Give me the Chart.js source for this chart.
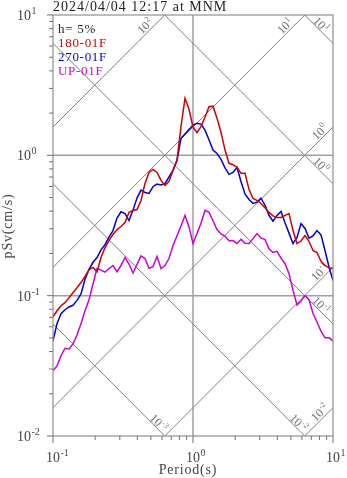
<!DOCTYPE html>
<html>
<head>
<meta charset="utf-8">
<script src="https://cdn.jsdelivr.net/npm/chart.js@4.4.0/dist/chart.umd.min.js"></script>
<style>
  html, body { margin: 0; padding: 0; background: #fff; }
  #wrap { position: relative; width: 347px; height: 478px; }
</style>
</head>
<body>
<div id="wrap"><canvas id="spec"></canvas></div>
<script>
/* ── DATA ── */
const title = '2024/04/04 12:17 at MNM';
const damping = 'h= 5%';
const seriesNames = ['180-01F', '270-01F', 'UP-01F'];

// period (s)
const periods = [
  0.1, 0.1068, 0.1141, 0.1218, 0.1301, 0.1389, 0.1484, 0.1585, 0.1693, 0.1808,
  0.1931, 0.2062, 0.2203, 0.2352, 0.2512, 0.2683, 0.2865, 0.306, 0.3268, 0.349,
  0.3728, 0.3981, 0.4252, 0.4541, 0.485, 0.5179, 0.5532, 0.5908, 0.631, 0.6739,
  0.7197, 0.7686, 0.8209, 0.8767, 0.9363, 1, 1.068, 1.141, 1.218, 1.301,
  1.389, 1.484, 1.585, 1.693, 1.808, 1.931, 2.062, 2.203, 2.352, 2.512,
  2.683, 2.865, 3.06, 3.268, 3.49, 3.728, 3.981, 4.252, 4.541, 4.85,
  5.179, 5.532, 5.908, 6.31, 6.739, 7.197, 7.686, 8.209, 8.767, 9.363,
  10
];

// pSv (cm/s)
const sv180 = [
  0.0708, 0.0781, 0.0848, 0.0891, 0.0968, 0.105, 0.114, 0.124, 0.137, 0.153,
  0.159, 0.148, 0.187, 0.220, 0.247, 0.273, 0.296, 0.311, 0.332, 0.392,
  0.405, 0.411, 0.477, 0.631, 0.756, 0.794, 0.756, 0.663, 0.611, 0.652,
  0.781, 0.921, 1.61, 2.55, 2.13, 1.59, 1.45, 1.61, 1.87, 2.22,
  2.24, 1.84, 1.46, 1.09, 0.877, 0.858, 0.821, 0.744, 0.744, 0.572,
  0.493, 0.477, 0.454, 0.423, 0.392, 0.370, 0.361, 0.361, 0.373, 0.385,
  0.291, 0.235, 0.245, 0.268, 0.244, 0.210, 0.203, 0.176, 0.164, 0.158,
  0.156
];
const sv270 = [
  0.0477, 0.0631, 0.0744, 0.0794, 0.0831, 0.0854, 0.0926, 0.103, 0.131, 0.154,
  0.173, 0.187, 0.212, 0.231, 0.261, 0.291, 0.357, 0.396, 0.385, 0.343,
  0.407, 0.496, 0.565, 0.544, 0.535, 0.598, 0.624, 0.616, 0.631, 0.701,
  0.781, 0.921, 1.32, 1.42, 1.53, 1.64, 1.69, 1.67, 1.51, 1.29,
  1.09, 1.03, 0.936, 0.814, 0.732, 0.756, 0.821, 0.649, 0.531, 0.485,
  0.454, 0.464, 0.495, 0.441, 0.374, 0.340, 0.373, 0.398, 0.331, 0.279,
  0.235, 0.260, 0.326, 0.301, 0.257, 0.267, 0.291, 0.271, 0.210, 0.160,
  0.128
];
const svUP = [
  0.0291, 0.0316, 0.0373, 0.0422, 0.0416, 0.0454, 0.0525, 0.0631, 0.0781, 0.0936,
  0.121, 0.156, 0.152, 0.147, 0.156, 0.164, 0.148, 0.164, 0.187, 0.168,
  0.145, 0.167, 0.192, 0.184, 0.157, 0.161, 0.190, 0.156, 0.164, 0.184,
  0.228, 0.267, 0.314, 0.373, 0.309, 0.235, 0.277, 0.328, 0.405, 0.392,
  0.342, 0.296, 0.275, 0.266, 0.246, 0.247, 0.235, 0.252, 0.236, 0.235,
  0.255, 0.277, 0.258, 0.251, 0.216, 0.203, 0.207, 0.185, 0.169, 0.144,
  0.109, 0.0858, 0.0917, 0.100, 0.0936, 0.0747, 0.0649, 0.0558, 0.0501, 0.0501,
  0.0477
];

// tripartite guide lines
const dispLevels = [1e-3, 1e-2, 1e-1, 1, 10];   // displacement (cm)
const accLevels  = [1e-2, 1e-1, 1, 10, 100];    // acceleration (cm/s2)
const xDecades = [0.1, 1, 10];
const yDecades = [0.01, 0.1, 1, 10];
const minorSteps = [2, 3, 4, 5, 6, 7, 8, 9];
const gridPeriods = [1];
const gridSv = [1, 0.1];

/* ── STYLE ── */
const TWO_PI = 2 * Math.PI;
const SERIF = '"Liberation Serif", "DejaVu Serif", serif';
const seriesColors = ['#d00000', '#0000d0', '#d000d0'];
const diagSpan = [0.01, 100];

const pts = sv => periods.map((t, i) => ({ x: t, y: sv[i] }));
const dataSets = [sv180, sv270, svUP].map((sv, i) => ({
  label: seriesNames[i], data: pts(sv), borderColor: seriesColors[i],
  borderWidth: 1.5, pointRadius: 0, tension: 0, order: i, clip: 0
}));
const guideStyle = { borderColor: '#808080', borderWidth: 1, pointRadius: 0, order: 10, clip: 0 };
const dispSets = dispLevels.map(d => ({ ...guideStyle, data: diagSpan.map(t => ({ x: t, y: TWO_PI * d / t })) }));
const accSets = accLevels.map(a => ({ ...guideStyle, data: diagSpan.map(t => ({ x: t, y: a * t / TWO_PI })) }));

/* ── HELPERS ── */
function seg(ctx, x1, y1, x2, y2) {
  ctx.beginPath(); ctx.moveTo(x1, y1); ctx.lineTo(x2, y2); ctx.stroke();
}
function expOf(v) { return String(Math.round(Math.log10(v))); }

// "10" with a raised exponent; mode: left / center / center10
function powText(ctx, exp, x, y, big, small, mode) {
  ctx.font = big + 'px ' + SERIF;
  const w10 = ctx.measureText('10').width;
  ctx.font = small + 'px ' + SERIF;
  const wE = ctx.measureText(exp).width;
  let x0 = x;
  if (mode === 'center') x0 = x - (w10 + wE) / 2;
  if (mode === 'center10') x0 = x - w10 / 2;
  ctx.textAlign = 'left'; ctx.textBaseline = 'alphabetic';
  ctx.font = big + 'px ' + SERIF;
  ctx.fillText('10', x0, y);
  ctx.font = small + 'px ' + SERIF;
  ctx.fillText(exp, x0 + w10 + 0.5, y - big * 0.42);
}

function diagLabel(ctx, exp, cx, cy, angle) {
  ctx.save();
  ctx.translate(cx, cy); ctx.rotate(angle);
  powText(ctx, exp, 0, 4, 12, 8, 'center');
  ctx.restore();
}

/* ── PLUGIN: frame, grid, ticks, texts ── */
const frame = {
  id: 'frame',
  beforeDatasetsDraw(chart) {
    const { ctx, chartArea: a, scales: { x, y } } = chart;
    ctx.save();
    ctx.strokeStyle = '#a0a0a0'; ctx.lineWidth = 1.5;
    gridPeriods.forEach(t => { const px = x.getPixelForValue(t); seg(ctx, px, a.top, px, a.bottom); });
    gridSv.forEach(v => { const py = y.getPixelForValue(v); seg(ctx, a.left, py, a.right, py); });

    // labels of the diagonal lines
    ctx.fillStyle = '#707070';
    const s2 = Math.SQRT1_2;
    accLevels.forEach(sa => {
      let t = TWO_PI * y.max / sa, v = y.max, back = 22;
      if (t > x.max) { t = x.max; v = sa * x.max / TWO_PI; back = 13; }
      const px = x.getPixelForValue(t), py = y.getPixelForValue(v);
      const cx = px + (-back - 6) * s2, cy = py + (back - 6) * s2;
      diagLabel(ctx, expOf(sa), cx, cy, -Math.PI / 4);
    });
    dispLevels.forEach(sd => {
      let t = x.max, v = TWO_PI * sd / x.max, back = 22;
      if (v < y.min) { v = y.min; t = TWO_PI * sd / y.min; back = 14; }
      const px = x.getPixelForValue(t), py = y.getPixelForValue(v);
      const cx = px + (-back + 5) * s2, cy = py + (-back - 5) * s2;
      diagLabel(ctx, expOf(sd), cx, cy, Math.PI / 4);
    });
    ctx.restore();
  },
  afterDatasetsDraw(chart) {
    const { ctx, chartArea: a, scales: { x, y } } = chart;
    ctx.save();
    ctx.strokeStyle = '#909090'; ctx.lineWidth = 1.2;
    ctx.strokeRect(a.left, a.top, a.right - a.left, a.bottom - a.top);

    // ticks
    ctx.strokeStyle = '#707070'; ctx.lineWidth = 1;
    xDecades.forEach((d, i) => {
      const px = x.getPixelForValue(d);
      seg(ctx, px, a.bottom, px, a.bottom + 7);
      if (i < xDecades.length - 1) minorSteps.forEach(m => {
        const mx = x.getPixelForValue(d * m);
        seg(ctx, mx, a.bottom, mx, a.bottom + 4);
      });
    });
    yDecades.forEach((d, i) => {
      const py = y.getPixelForValue(d);
      seg(ctx, a.left - 6, py, a.left, py);
      if (i < yDecades.length - 1) minorSteps.forEach(m => {
        const my = y.getPixelForValue(d * m);
        seg(ctx, a.left - 4, my, a.left, my);
      });
    });

    // tick labels
    ctx.fillStyle = '#444';
    xDecades.forEach(d => powText(ctx, expOf(d), x.getPixelForValue(d), a.bottom + 26, 14, 10, 'center10'));
    yDecades.forEach(d => powText(ctx, expOf(d), 17, y.getPixelForValue(d) + 5, 14, 10, 'left'));

    // axis titles
    ctx.letterSpacing = '0.8px';
    ctx.font = '14px ' + SERIF; ctx.textAlign = 'center'; ctx.textBaseline = 'alphabetic';
    ctx.fillText('Period(s)', 188, 474);
    ctx.save();
    ctx.translate(12, 226); ctx.rotate(-Math.PI / 2);
    ctx.fillText('pSv(cm/s)', 0, 0);
    ctx.restore();

    // title
    ctx.fillStyle = '#222'; ctx.letterSpacing = '1px';
    ctx.textAlign = 'left';
    ctx.fillText(title, a.left, 11);

    // legend
    ctx.font = '13px ' + SERIF; ctx.letterSpacing = '0.7px';
    ctx.fillStyle = '#222';
    ctx.fillText(damping, a.left + 5, 33);
    seriesNames.forEach((n, i) => {
      ctx.fillStyle = seriesColors[i];
      ctx.fillText(n, a.left + 5, 47 + i * 14);
    });
    ctx.restore();
  }
};

/* ── CHART ── */
new Chart(document.getElementById('spec'), {
  type: 'line',
  data: { datasets: [...dataSets, ...dispSets, ...accSets] },
  options: {
    responsive: true,
    maintainAspectRatio: false,
    animation: false,
    layout: { padding: { left: 53, top: 15, right: 14, bottom: 42 } },
    plugins: { legend: { display: false }, tooltip: { enabled: false } },
    scales: {
      x: { type: 'logarithmic', min: 0.1, max: 10, display: false },
      y: { type: 'logarithmic', min: 0.01, max: 10, display: false }
    }
  },
  plugins: [frame]
});
</script>
</body>
</html>
